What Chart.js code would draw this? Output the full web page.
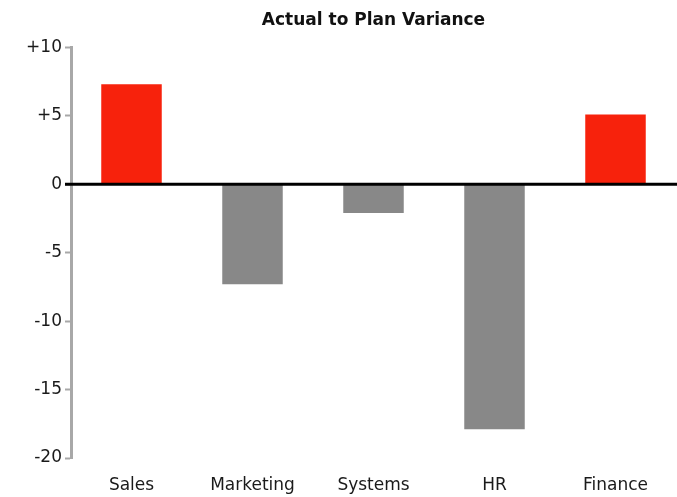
<!DOCTYPE html>
<html>
<head>
<meta charset="utf-8">
<script src="https://cdn.jsdelivr.net/npm/chart.js@4"></script>
<style>
  html, body { margin: 0; padding: 0; background: #fff; }
  #wrap { width: 677px; height: 497px; }
</style>
</head>
<body>
<div id="wrap"><canvas id="chart"></canvas></div>
<script>
const departments = ['Sales', 'Marketing', 'Systems', 'HR', 'Finance'];
const variance = [7.3, -7.3, -2.1, -17.9, 5.1];
const yTicks = [10, 5, 0, -5, -10, -15, -20];

const posColor = '#f7220c';
const negColor = '#888888';

// black zero line drawn on top of the bars
const zeroLine = {
  id: 'zeroLine',
  afterDatasetsDraw(chart) {
    const y = chart.scales.y.getPixelForValue(0);
    const ctx = chart.ctx;
    ctx.save();
    ctx.strokeStyle = '#000';
    ctx.lineWidth = 3;
    ctx.beginPath();
    ctx.moveTo(chart.chartArea.left - 6, y);
    ctx.lineTo(chart.width, y);
    ctx.stroke();
    ctx.restore();
  }
};

const ctx = document.getElementById('chart').getContext('2d');
new Chart(ctx, {
  type: 'bar',
  data: {
    labels: departments,
    datasets: [{
      data: variance,
      backgroundColor: variance.map(v => v >= 0 ? posColor : negColor),
      barPercentage: 0.5,
      categoryPercentage: 1
    }]
  },
  options: {
    responsive: true,
    maintainAspectRatio: false,
    animation: false,
    layout: { padding: { left: 0, right: 1, top: 0, bottom: 0 } },
    plugins: {
      legend: { display: false },
      tooltip: { enabled: false },
      title: {
        display: true,
        fullSize: false,
        text: 'Actual to Plan Variance',
        color: '#111',
        font: { family: 'DejaVu Sans', size: 17, weight: 'bold' },
        padding: { top: 10, bottom: 17 }
      }
    },
    scales: {
      x: {
        afterFit(scale) { scale.height = 39; },
        grid: { display: false, drawTicks: false },
        border: { display: false },
        ticks: {
          color: '#1a1a1a',
          padding: 17,
          font: { family: 'DejaVu Sans', size: 17 }
        }
      },
      y: {
        min: -20,
        max: 10,
        afterFit(scale) { scale.width = 71; },
        afterBuildTicks(scale) {
          scale.ticks = yTicks.map(v => ({ value: v }));
        },
        grid: {
          drawOnChartArea: false,
          drawTicks: true,
          tickLength: 6,
          tickColor: '#a8a8a8',
          tickWidth: 2
        },
        border: { display: true, color: '#a8a8a8', width: 3 },
        ticks: {
          color: '#1a1a1a',
          padding: 3,
          font: { family: 'DejaVu Sans', size: 17 },
          callback: v => v > 0 ? '+' + v : String(v)
        }
      }
    }
  },
  plugins: [zeroLine]
});
</script>
</body>
</html>
